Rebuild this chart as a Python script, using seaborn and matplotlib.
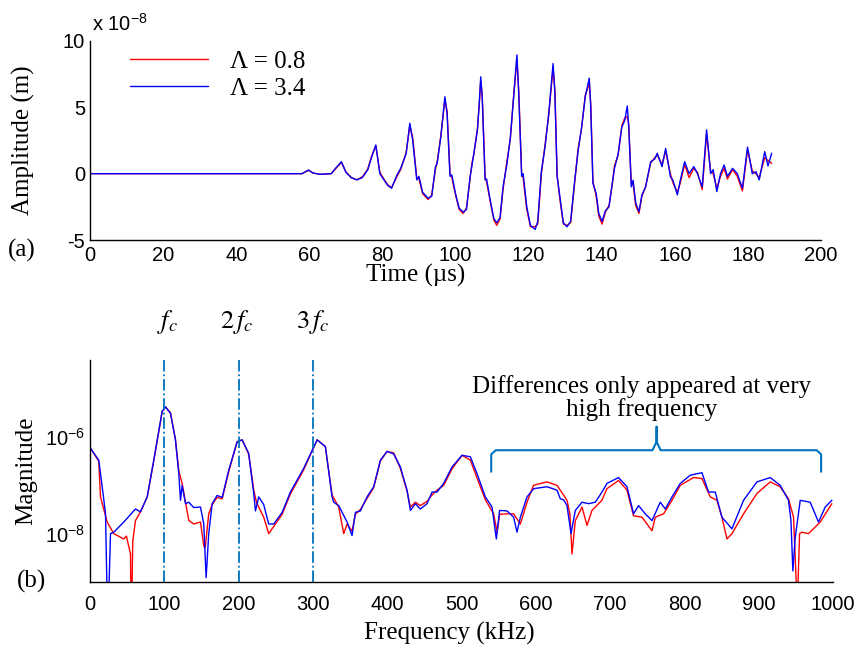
"""
Time signal (a) and spectrum (b) for two Lambda values.
"""

import numpy as np
import matplotlib
matplotlib.use("Agg")
import matplotlib.pyplot as plt
import seaborn as sns

sns.set_style("white")
plt.rcParams['font.family'] = ['Liberation Sans', 'DejaVu Sans']
plt.rcParams['mathtext.fontset'] = 'stix'
plt.rcParams['axes.unicode_minus'] = False
plt.rcParams['text.color'] = 'black'
plt.rcParams['axes.labelcolor'] = 'black'

SERIF = ['Liberation Serif', 'DejaVu Serif']
RED = '#ff0000'
BLUE = '#0000ff'
ANNOT = '#0072bd'

# ---- (a) time signal, amplitude in units of 1e-8 m ----
time_us = [
    0, 58, 59.8, 61, 63, 66, 67, 68.8, 70, 71.5,
    73, 74.5, 76, 77, 78.2, 79.3, 80.5, 81.5, 82.5, 84,
    85, 86.5, 87.5, 88.3, 89.4, 90, 91, 92.5, 93.5, 94.5,
    95, 96, 97.1, 97.7, 98.5, 99, 100, 101, 102.1, 103,
    104, 104.5, 105, 106, 106.5, 106.9, 107.3, 108.1, 108.5, 109.5,
    110.5, 111.3, 112.2, 113, 114, 115, 115.8, 116.8, 117.3, 118.1,
    118.5, 119.5, 120.5, 121.8, 122.5, 123.5, 124.5, 125.5, 126.7, 127.2,
    127.8, 128.5, 129.5, 130.5, 131.5, 132.5, 133.5, 134.5, 135.5, 136.6,
    137, 137.6, 138.5, 139.2, 140.1, 141, 142, 143, 143.5, 144.5,
    145.5, 146.3, 147.0, 147.4, 148.1, 148.6, 149.3, 150.2, 151, 152,
    153.4, 154.5, 155.2, 156.5, 157.5, 158.8, 159.5, 160.7, 161.5, 162.7,
    163.9, 165.2, 166.2, 167.5, 168.7, 169.8, 170.5, 171.5, 172.5, 173.5,
    174.4, 175.8, 177.1, 178.5, 179.9, 181.2, 182.2, 183.1, 184.6, 185.5,
    186.5,
]
amp_blue = [
    0, 0, 0.28, 0.05, -0.05, 0, 0.35, 0.9, 0.1, -0.3,
    -0.47, -0.3, 0.3, 1.2, 2.16, 0, -0.5, -0.9, -1.1, -0.1,
    0.4, 1.5, 3.8, 2.5, -0.47, -0.2, -1.4, -1.86, -1.7, 0.5,
    0.8, 2.8, 5.8, 4.5, -0.2, -0.1, -1.5, -2.6, -2.9, -2.7,
    -0.2, 0.6, 1.5, 3.3, 5.3, 7.3, 5.8, -0.47, -0.4, -2.0,
    -3.4, -3.7, -3.3, -1.0, 0.6, 2.7, 5.4, 8.95, 6.0, -0.2,
    0.0, -2.5, -3.9, -4.2, -3.6, 0.2, 2.0, 4.5, 8.3, 6.0,
    -0.2, -1.6, -3.7, -4.0, -3.6, -0.8, 1.6, 3.5, 5.8, 7.2,
    5.0, -0.72, -1.5, -3.0, -3.6, -2.8, -2.5, -0.5, 0.4, 1.5,
    3.5, 4.0, 5.1, 3.5, -1.0, -0.5, -2.2, -2.86, -1.6, -1.0,
    0.9, 1.1, 1.54, 0.53, 1.9, -0.23, -0.5, -1.6, -0.5, 0.9,
    0.0, 0.53, 0.0, -1.0, 3.3, 0.0, 0.3, -1.35, 0.0, 0.65,
    -0.2, 0.4, 0.0, -1.1, 2.0, 0.0, 0.15, -0.47, 1.66, 0.58,
    1.54,
]
amp_red = [
    0, 0, 0.25, 0.05, -0.05, 0, 0.3, 0.85, 0.15, -0.3,
    -0.45, -0.25, 0.35, 1.3, 2.1, 0.1, -0.45, -0.85, -1.05, -0.2,
    0.3, 1.6, 3.6, 2.7, -0.3, -0.4, -1.5, -1.95, -1.6, 0.3,
    0.9, 2.9, 5.6, 4.7, 0.0, -0.3, -1.6, -2.7, -3.0, -2.6,
    -0.3, 0.8, 1.4, 3.4, 5.2, 7.0, 6.0, -0.3, -0.6, -2.1,
    -3.5, -3.9, -3.4, -1.2, 0.8, 2.6, 5.5, 8.6, 6.3, 0.0,
    -0.3, -2.7, -4.0, -4.0, -3.8, 0.0, 2.2, 4.4, 8.0, 6.3,
    -0.1, -1.8, -3.8, -3.9, -3.7, -1.0, 1.8, 3.4, 5.9, 6.8,
    5.3, -0.6, -1.7, -3.2, -3.8, -2.9, -2.4, -0.6, 0.6, 1.4,
    3.6, 4.2, 4.3, 3.7, -0.8, -0.8, -2.4, -3.0, -1.7, -1.0,
    0.8, 1.2, 1.4, 0.7, 1.7, 0.0, -0.7, -1.4, -0.7, 0.7,
    -0.3, 0.4, 0.1, -1.2, 3.0, 0.2, 0.0, -1.1, -0.2, 0.4,
    -0.4, 0.3, -0.2, -1.3, 1.8, 0.2, 0.0, -0.3, 1.2, 1.0,
    0.78,
]

# ---- (b) spectrum, magnitude stored as log10 ----
freq_blue = [
    0, 11.8, 16.4, 20.9, 23.9, 27.6, 32, 45.5, 61.2, 67.9,
    77, 85.8, 97.1, 101.6, 108.3, 115, 119.5, 121.8, 124, 128.5,
    132.9, 139.6, 148.7, 153.1, 156.3, 159.8, 164.4, 171.1, 177.9, 186.7,
    198, 204.8, 213.6, 220.4, 222.7, 227.1, 233.8, 240.5, 247.3, 258.6,
    269.7, 287.6, 305.7, 316.8, 325.8, 328, 334.7, 346, 352.7, 357.2,
    363.9, 372.9, 381.8, 390.8, 399.8, 408.7, 417.7, 426.7, 431.2, 437.9,
    444.6, 453.6, 460.4, 467.1, 476, 487.3, 500.7, 511.9, 520.9, 532.1,
    541.1, 546.9, 551.3, 561.3, 570.2, 574.7, 579.2, 588.2, 597.1, 615.1,
    628.5, 633, 637.4, 642, 647.4, 653.2, 662.2, 671.1, 680.1, 689.1,
    695.8, 711.4, 722.7, 731.6, 738.3, 747.3, 756.4, 767.5, 774.3, 783.3,
    794.5, 808, 823.6, 832.5, 841.5, 850.5, 864, 879.6, 897.6, 915.5,
    928.9, 940.1, 943.4, 946, 949, 955.9, 969.3, 980.5, 989.5, 998.5,
]
logmag_blue = [
    -6.22, -6.48, -7.03, -7.59, -10, -8.0, -7.97, -7.76, -7.49, -7.55,
    -7.24, -6.48, -5.47, -5.38, -5.51, -6.06, -6.76, -7.31, -7.0, -7.38,
    -7.35, -7.46, -7.45, -7.8, -8.91, -8.0, -7.38, -7.21, -7.25, -6.69,
    -6.1, -6.06, -6.34, -7.17, -7.53, -7.24, -7.4, -7.8, -7.8, -7.56,
    -7.14, -6.65, -6.06, -6.2, -7.24, -7.35, -7.42, -7.76, -8.04, -7.56,
    -7.53, -7.24, -7.03, -6.48, -6.3, -6.35, -6.62, -7.1, -7.52, -7.38,
    -7.49, -7.38, -7.14, -7.14, -6.96, -6.62, -6.38, -6.41, -6.76, -7.24,
    -7.45, -8.11, -7.52, -7.53, -7.66, -7.97, -7.66, -7.24, -7.07, -7.03,
    -7.10, -7.28, -7.3, -7.42, -8.0, -7.52, -7.35, -7.38, -7.35, -7.14,
    -6.96, -6.84, -7.03, -7.59, -7.42, -7.59, -7.73, -7.35, -7.49, -7.24,
    -6.96, -6.79, -6.74, -7.14, -7.14, -7.66, -7.90, -7.31, -6.93, -6.84,
    -7.0, -7.31, -7.73, -8.77, -8.1, -7.31, -7.35, -7.76, -7.45, -7.31,
]
freq_red = [
    0, 11.8, 14.1, 23.1, 32, 45.5, 49, 54.5, 55.5, 57.6,
    61.2, 67.9, 77, 85.8, 97.1, 101.6, 108.3, 115, 119.5, 124,
    133, 139.6, 148.7, 153.1, 155, 159.8, 164.4, 171.1, 177.9, 186.7,
    198, 204.8, 213.6, 220.4, 224, 233.8, 240.5, 247.3, 258.6, 269.7,
    287.6, 305.7, 316.8, 325.8, 334.7, 341.5, 346, 352.7, 357.2, 363.9,
    372.9, 381.8, 390.8, 399.8, 408.7, 417.7, 426.7, 431.2, 437.9, 444.6,
    453.6, 460.4, 467.1, 476, 487.3, 500.7, 511.9, 520.9, 532.1, 543.3,
    547.9, 551.3, 561.3, 570.2, 579.2, 588.2, 597, 615, 628.5, 642,
    646, 648.7, 653.2, 662.2, 668.9, 675.6, 684.5, 689, 695.8, 711.4,
    722.7, 731.6, 742.9, 756.4, 760.8, 772, 783.3, 794.5, 812.3, 823.6,
    834.8, 843.7, 850.5, 857.3, 864, 879.6, 897.6, 915.5, 928.9, 940.1,
    946.9, 950.5, 951.4, 953, 955, 958, 967, 973.6, 982.8, 998.5,
]
logmag_red = [
    -6.22, -6.5, -7.24, -7.76, -8.0, -8.11, -8.05, -8.42, -10, -8.15,
    -7.73, -7.55, -7.24, -6.5, -5.48, -5.38, -5.5, -6.05, -6.7, -6.96,
    -7.73, -7.8, -7.76, -8.25, -8.3, -7.59, -7.4, -7.25, -7.28, -6.72,
    -6.1, -6.06, -6.36, -7.1, -7.35, -7.66, -8.0, -7.85, -7.6, -7.18,
    -6.68, -6.06, -6.2, -7.2, -7.45, -8.0, -7.8, -7.95, -7.6, -7.5,
    -7.27, -7.05, -6.5, -6.3, -6.33, -6.65, -7.12, -7.45, -7.35, -7.42,
    -7.33, -7.2, -7.1, -7.0, -6.66, -6.38, -6.48, -6.85, -7.3, -7.59,
    -7.97, -7.6, -7.59, -7.59, -7.8, -7.35, -7.0, -6.93, -7.0, -7.31,
    -7.6, -8.42, -7.73, -7.45, -7.83, -7.52, -7.38, -7.31, -7.07, -6.9,
    -7.1, -7.63, -7.66, -7.94, -7.66, -7.59, -7.31, -7.0, -6.84, -6.86,
    -7.24, -7.31, -7.66, -8.11, -8.0, -7.59, -7.17, -6.93, -7.03, -7.28,
    -7.66, -9.0, -10, -9.0, -8.0, -7.97, -8.0, -7.9, -7.76, -7.38,
]

harmonics = [100, 200, 300]
harmonic_labels = [r'$f_c$', r'$2\,f_c$', r'$3\,f_c$']
harmonic_label_x = [105, 197, 300]
legend_labels = ['Λ = 0.8', 'Λ = 3.4']

W, H = 859, 648
fig = plt.figure(figsize=(W / 100, H / 100), dpi=100)
ax1 = fig.add_axes([90 / W, 1 - 240 / H, (821 - 90) / W, (240 - 41) / H])
ax2 = fig.add_axes([90 / W, 1 - 582 / H, (833 - 90) / W, (582 - 360) / H])

tick_kw = dict(direction='in', length=4, width=1, labelsize=14.5, colors='black')

# (a)
sns.lineplot(x=time_us, y=amp_red, ax=ax1, color=RED, lw=1.0, label=legend_labels[0])
sns.lineplot(x=time_us, y=amp_blue, ax=ax1, color=BLUE, lw=1.0, label=legend_labels[1])
ax1.set_xlim(0, 200)
ax1.set_ylim(-5, 10)
ax1.set_xticks(range(0, 201, 20))
ax1.set_yticks([-5, 0, 5, 10])
ax1.tick_params(**tick_kw)
ax1.tick_params(axis='x', pad=4)
ax1.set_xlabel('Time (µs)', family=SERIF, fontsize=18)
ax1.xaxis.set_label_coords(0.445, -0.12)
ax1.set_ylabel('Amplitude (m)', family=SERIF, fontsize=18)
ax1.yaxis.set_label_coords(-0.075, 0.5)
ax1.legend(loc='upper left', bbox_to_anchor=(130 / W, 1 - 50 / H),
           bbox_transform=fig.transFigure, frameon=False, borderpad=0,
           borderaxespad=0, handlelength=3.1, handletextpad=0.9,
           labelspacing=0.2, prop={'family': SERIF, 'size': 18})
fig.text(92 / W, 1 - 24 / H, r'x 10$^{\mathregular{-8}}$', fontsize=14.5,
         va='center', ha='left', math_fontfamily='dejavusans')
fig.text(22 / W, 1 - 250 / H, '(a)', family=SERIF, fontsize=18, ha='center', va='center')

# (b)
sns.lineplot(x=freq_red, y=np.power(10.0, logmag_red), ax=ax2, color=RED, lw=1.0)
sns.lineplot(x=freq_blue, y=np.power(10.0, logmag_blue), ax=ax2, color=BLUE, lw=1.0)
ax2.set_yscale('log')
ax2.set_xlim(0, 1000)
ax2.set_ylim(1e-9, 3.9e-5)
ax2.set_xticks(range(0, 1001, 100))
ax2.set_yticks([1e-8, 1e-6])
ax2.yaxis.set_minor_locator(matplotlib.ticker.NullLocator())
ax2.tick_params(**tick_kw)
ax2.tick_params(axis='x', pad=9)
ax2.set_xlabel('Frequency (kHz)', family=SERIF, fontsize=18)
ax2.xaxis.set_label_coords(0.483, -0.18)
ax2.set_ylabel('Magnitude', family=SERIF, fontsize=18)
ax2.yaxis.set_label_coords(-0.071, 0.5)

for f in harmonics:
    ax2.axvline(f, color=ANNOT, lw=1.3, ls='-.')
for xl, lab in zip(harmonic_label_x, harmonic_labels):
    ax2.text(xl, 1.17, lab, transform=ax2.get_xaxis_transform(), fontsize=19,
             ha='center', va='center')

# bracket over the high-frequency part
bx = [540, 540, 546, 757, 762.6, 762.6, 762.6, 768, 978, 984, 984]
by = [-6.72, -6.36, -6.275, -6.275, -6.1, -5.79, -6.1, -6.275, -6.275, -6.36, -6.72]
ax2.plot(bx, np.power(10.0, by), color=ANNOT, lw=1.5, solid_joinstyle='round')
ax2.text(742, 0.83, 'Differences only appeared at very\nhigh frequency',
         transform=ax2.get_xaxis_transform(), family=SERIF, fontsize=18,
         ha='center', va='center', linespacing=1.0)
fig.text(32 / W, 1 - 581 / H, '(b)', family=SERIF, fontsize=18, ha='center', va='center')

for ax in (ax1, ax2):
    sns.despine(ax=ax)
    for s in ('left', 'bottom'):
        ax.spines[s].set_color('black')
        ax.spines[s].set_linewidth(1.0)

fig.savefig('out.png', dpi=100)
